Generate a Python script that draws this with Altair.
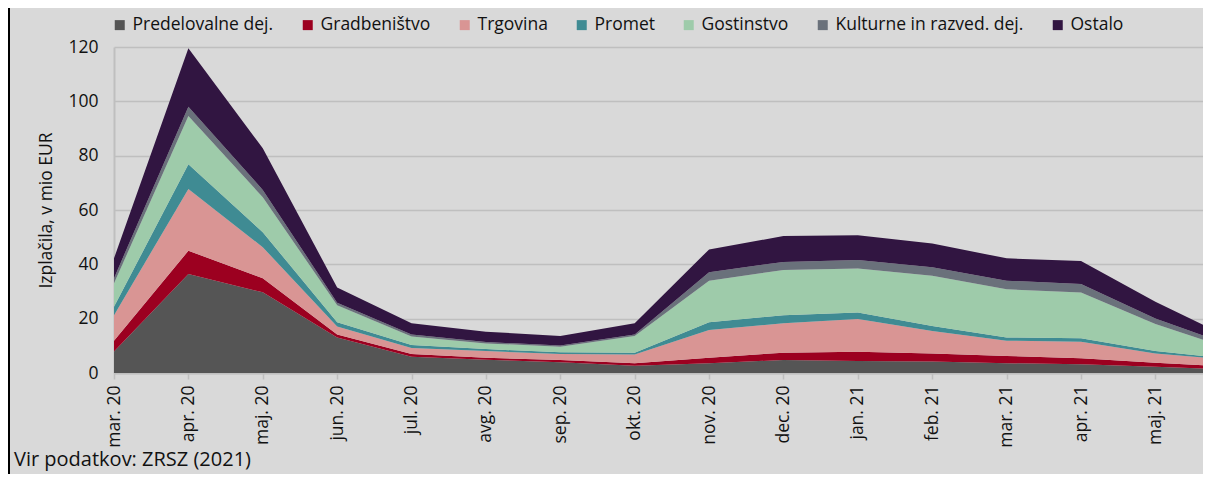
import json
import altair as alt
import pandas as pd

FONT = "Open Sans"

months = ["mar. 20", "apr. 20", "maj. 20", "jun. 20", "jul. 20", "avg. 20", "sep. 20",
          "okt. 20", "nov. 20", "dec. 20", "jan. 21", "feb. 21", "mar. 21", "apr. 21",
          "maj. 21", "jun. 21"]
series = ["Predelovalne dej.", "Gradbeništvo", "Trgovina", "Promet", "Gostinstvo",
          "Kulturne in razved. dej.", "Ostalo"]
colors = ["#555555", "#9c0020", "#d99594", "#3f8b93", "#9ecbaa", "#6a717b", "#311541"]

predelovalne = [7.9, 36.4, 29.7, 13.1, 6.0, 4.9, 4.0, 2.7, 3.6, 4.8, 4.4, 4.2, 3.6, 3.2, 2.3, 1.35]
gradbenistvo = [4.0, 8.6, 5.2, 1.1, 1.0, 0.7, 0.8, 0.9, 2.0, 2.7, 3.4, 3.0, 2.7, 2.2, 1.5, 0.95]
trgovina = [9.4, 22.7, 11.4, 2.9, 2.2, 2.5, 2.2, 3.2, 10.2, 10.8, 12.1, 8.3, 5.6, 6.1, 3.4, 2.6]
promet = [3.1, 9.1, 5.5, 1.6, 1.1, 0.7, 0.6, 0.7, 2.9, 3.0, 2.4, 1.8, 1.2, 1.3, 0.9, 0.36]
gostinstvo = [8.6, 17.8, 12.9, 6.2, 3.1, 2.1, 2.1, 6.1, 15.3, 16.6, 16.2, 18.5, 17.7, 16.8, 9.9, 3.7]
kulturne = [1.9, 3.4, 2.7, 1.0, 0.8, 0.5, 0.4, 0.6, 3.1, 3.0, 3.1, 3.1, 3.2, 3.2, 2.1, 1.25]
ostalo = [7.3, 21.5, 15.3, 5.6, 4.1, 3.8, 3.5, 4.1, 8.4, 9.5, 9.1, 8.8, 8.2, 8.4, 6.1, 2.8]

y_title = "Izplačila, v mio EUR"
source = "Vir podatkov: ZRSZ (2021)"

values = [predelovalne, gradbenistvo, trgovina, promet, gostinstvo, kulturne, ostalo]
rows = []
for s_i, (name, vals) in enumerate(zip(series, values)):
    for m_i, v in enumerate(vals):
        rows.append({"idx": m_i, "mesec": months[m_i], "serija": name, "ord": s_i, "v": v})
df = pd.DataFrame(rows)

label_expr = json.dumps(months) + "[datum.value]"

area = alt.Chart(df).mark_area(clip=True).encode(
    x=alt.X("idx:Q",
            scale=alt.Scale(domain=[0, 14.64], nice=False, zero=False),
            axis=alt.Axis(values=list(range(15)), labelExpr=label_expr, labelAngle=-90,
                          title=None, grid=False, ticks=True, tickSize=6,
                          tickColor="#bfbfbf", tickWidth=1.5, domainColor="#bfbfbf",
                          domainWidth=2, labelPadding=6, labelFontSize=17.5,
                          labelFont=FONT, labelColor="#111111")),
    y=alt.Y("v:Q", stack="zero",
            scale=alt.Scale(domain=[0, 120], nice=False),
            axis=alt.Axis(values=[0, 20, 40, 60, 80, 100, 120], title=y_title,
                          grid=True, gridColor="#bfbfbf", gridWidth=1.5, ticks=False,
                          domainColor="#bfbfbf", domainWidth=2, labelPadding=16,
                          labelFontSize=17.5, labelFont=FONT, labelColor="#111111",
                          titleFont=FONT, titleFontSize=17.5, titleFontWeight="normal",
                          titleColor="#111111", titlePadding=12)),
    color=alt.Color("serija:N", sort=series,
                    scale=alt.Scale(domain=series, range=colors),
                    legend=alt.Legend(title=None, orient="none", legendX=-3, legendY=-31,
                                      direction="horizontal", columns=7,
                                      symbolType="square", symbolSize=100,
                                      symbolStrokeWidth=0, labelFontSize=17.5,
                                      labelFont=FONT, labelColor="#111111",
                                      labelLimit=0, labelOffset=4, columnPadding=25)),
    order=alt.Order("ord:Q", sort="ascending"),
)

src = alt.Chart(pd.DataFrame({"t": [source]})).mark_text(
    align="left", baseline="alphabetic", fontSize=20, font=FONT, color="#111111"
).encode(text="t:N", x=alt.value(-100), y=alt.value(419))

border = alt.Chart(pd.DataFrame({"a": [0]})).mark_rule(
    color="black", strokeWidth=2
).encode(x=alt.value(-105), y=alt.value(-50), y2=alt.value(450))

chart = alt.layer(area, src, border).properties(
    width=1089, height=326,
    autosize=alt.AutoSizeParams(type="none"),
    padding={"left": 106, "top": 39, "right": 0, "bottom": 101},
    background="#d9d9d9",
).configure_view(stroke=None)

chart.save("out.html", embed_options={"renderer": "svg", "actions": False})
